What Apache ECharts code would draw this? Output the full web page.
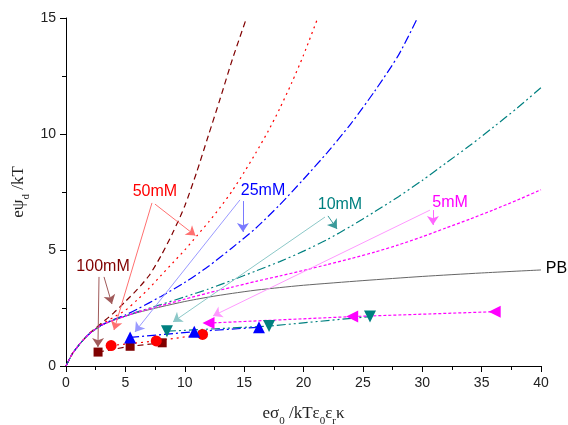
<!DOCTYPE html>
<html>
<head>
<meta charset="utf-8">
<script src="https://cdn.jsdelivr.net/npm/echarts@6/dist/echarts.min.js"></script>
<style>
  html, body { margin: 0; padding: 0; background: #fff; }
  #chart { width: 568px; height: 425px; }
</style>
</head>
<body>
<div id="chart"></div>
<script>
// theory curves [x, y]
var pb = [[0,0],[0.5,0.5],[1,0.85],[1.5,1.15],[2,1.4],[3,1.75],[4,1.97],[5,2.15],[6,2.3],[8,2.55],[10,2.78],[12,2.97],[14,3.13],[16,3.27],[18,3.38],[20,3.48],[25,3.68],[30,3.86],[35,4.01],[40,4.14]];
var theory100 = [[0,0],[0.5,0.5],[1,0.85],[1.5,1.15],[2,1.42],[3,1.85],[4,2.28],[5,2.78],[6,3.3],[7,3.9],[8,4.75],[9,5.75],[10,6.9],[11,8.35],[12,9.95],[13,11.55],[14,13.2],[15.2,15]];
var theory50 = [[0,0],[0.5,0.5],[1,0.85],[1.5,1.15],[2,1.41],[3,1.8],[4,2.1],[5,2.4],[6,2.85],[7,3.35],[8,3.9],[9,4.45],[10,5.0],[11,5.6],[12,6.2],[13,6.85],[14,7.55],[15,8.35],[16,9.2],[17,10.1],[18,11.1],[19,12.2],[20,13.4],[21.2,15]];
var theory25 = [[0,0],[0.5,0.5],[1,0.85],[1.5,1.15],[2,1.4],[3,1.77],[4,2.0],[5,2.2],[6,2.45],[8,3.0],[10,3.6],[12,4.3],[14,5.1],[16,5.95],[18,6.95],[20,8.05],[22,9.2],[24,10.45],[26,11.85],[28,13.4],[29.6,15]];
var theory10 = [[0,0],[0.5,0.5],[1,0.85],[1.5,1.15],[2,1.4],[3,1.76],[4,1.98],[5,2.15],[6,2.33],[8,2.65],[10,2.98],[12,3.32],[14,3.7],[16,4.1],[18,4.5],[20,4.95],[22,5.45],[24,6.03],[26,6.65],[28,7.3],[30,8.0],[32,8.75],[34,9.5],[36,10.3],[38,11.12],[40,12.0]];
var theory5 = [[0,0],[0.5,0.5],[1,0.85],[1.5,1.15],[2,1.4],[3,1.76],[4,1.97],[5,2.15],[6,2.32],[8,2.6],[10,2.88],[12,3.15],[14,3.4],[16,3.65],[18,3.88],[20,4.12],[22,4.37],[24,4.63],[26,4.91],[28,5.22],[30,5.57],[32,5.95],[34,6.33],[36,6.73],[38,7.15],[40,7.6]];

// measured points
var meas100 = [[2.7,0.6],[5.4,0.85],[8.1,1.0]];
var meas50 = [[3.8,0.88],[7.6,1.08],[11.5,1.36]];
var meas25 = [[5.4,1.23],[10.8,1.48],[16.25,1.67]];
var meas10 = [[8.5,1.5],[17.1,1.72],[25.6,2.13]];
var meas5 = [[12.0,1.85],[24.1,2.13],[36.1,2.34]];

// annotation labels and pointer arrows (data coordinates)
var labels = [
  {text: '100mM', at: [3.12, 4.3], color: '#800000'},
  {text: '50mM', at: [7.49, 7.5], color: '#ff0000'},
  {text: '25mM', at: [16.59, 7.55], color: '#0000ff'},
  {text: '10mM', at: [23.07, 6.95], color: '#008080'},
  {text: '5mM', at: [32.34, 7.03], color: '#ff00ff'},
  {text: 'PB', at: [41.3, 4.2], color: '#000000'}
];
var arrows = [
  {from: [2.78, 3.84], to: [2.69, 0.82], color: '#a05a5a'},
  {from: [3.2, 3.84], to: [3.87, 2.67], color: '#a05a5a'},
  {from: [7.24, 7.03], to: [4.04, 1.55], color: '#ff7070'},
  {from: [7.49, 6.98], to: [10.9, 5.62], color: '#ff7070'},
  {from: [14.9, 7.11], to: [14.9, 5.78], color: '#7a7aff'},
  {from: [14.65, 7.16], to: [5.81, 1.47], color: '#9a9aff'},
  {from: [22.06, 6.47], to: [22.82, 5.91], color: '#3a9a9a'},
  {from: [21.81, 6.42], to: [9.01, 1.9], color: '#8cc8c8'},
  {from: [30.9, 6.72], to: [30.9, 6.08], color: '#ff66ff'},
  {from: [30.65, 6.72], to: [12.38, 2.16], color: '#ff99ff'}
];

var chart = echarts.init(document.getElementById('chart'));

function curve(data, color, dash, width) {
  return {
    type: 'line', data: data, showSymbol: false, smooth: 0.25,
    lineStyle: {color: color, type: dash, width: width || 1.2}, z: 2, silent: true
  };
}
function points(data, color, dash, symbol, size, rot) {
  return {
    type: 'line', data: data, symbol: symbol, symbolSize: size, symbolRotate: rot || 0,
    showSymbol: true, itemStyle: {color: color, opacity: 1},
    lineStyle: {color: color, type: dash, width: 1.2}, z: 4, silent: true
  };
}

var dash100 = [6, 4], dot50 = [2, 4], dd25 = [9, 3, 2, 3], ddd10 = [9, 3, 2, 3, 2, 3], sd5 = [3, 2];

var arrowSeries = {
  type: 'line', data: [], silent: true, z: 3,
  markLine: {
    silent: true, symbol: ['none', 'arrow'], symbolSize: 9, label: {show: false},
    animation: false,
    data: arrows.map(function (a) {
      return [{coord: a.from, symbol: 'none', lineStyle: {color: a.color, type: 'solid', width: 1}, itemStyle: {color: a.color}},
              {coord: a.to, symbol: 'arrow', symbolSize: 9, itemStyle: {color: a.color}}];
    })
  }
};

var titleRich = {
  a: {fontFamily: 'Liberation Serif', fontSize: 17, color: '#222', lineHeight: 26},
  s: {fontFamily: 'Liberation Serif', fontSize: 11, color: '#222', lineHeight: 12, verticalAlign: 'bottom'}
};

chart.setOption({
  animation: false,
  grid: {left: 66, right: 27, top: 18, bottom: 59, containLabel: false, outerBoundsMode: 'none'},
  xAxis: {
    type: 'value', min: 0, max: 40, interval: 5,
    name: '{a|eσ}{s|0}{a| /kTε}{s|0}{a|ε}{s|r}{a|κ}',
    nameLocation: 'middle', nameGap: 35, nameMoveOverlap: false,
    nameTextStyle: {rich: titleRich},
    axisLine: {lineStyle: {color: '#000', width: 1}},
    axisTick: {inside: false, length: 6, lineStyle: {color: '#000'}},
    minorTick: {show: true, splitNumber: 2, length: 4, lineStyle: {color: '#000'}},
    axisLabel: {fontFamily: 'Liberation Sans', fontSize: 14, color: '#222', margin: 10},
    splitLine: {show: false}
  },
  yAxis: {
    type: 'value', min: 0, max: 15, interval: 5,
    name: '{a|eψ}{s|d}{a| /kT}',
    nameLocation: 'middle', nameGap: 34, nameMoveOverlap: false,
    nameTextStyle: {rich: titleRich},
    axisLine: {show: true, lineStyle: {color: '#000', width: 1}},
    axisTick: {show: true, inside: false, length: 6, lineStyle: {color: '#000'}},
    minorTick: {show: true, splitNumber: 2, length: 4, lineStyle: {color: '#000'}},
    axisLabel: {fontFamily: 'Liberation Sans', fontSize: 14, color: '#222', margin: 10},
    splitLine: {show: false}
  },
  series: [
    curve(pb, '#666666', 'solid', 1),
    curve(theory100, '#800000', dash100),
    curve(theory50, '#ff0000', dot50),
    curve(theory25, '#0000ff', dd25),
    curve(theory10, '#008080', ddd10),
    curve(theory5, '#ff00ff', sd5),
    arrowSeries,
    points(meas100, '#800000', dash100, 'rect', 9),
    points(meas50, '#ff0000', dot50, 'circle', 11),
    points(meas25, '#0000ff', dd25, 'triangle', 12),
    points(meas10, '#008080', ddd10, 'triangle', 12, 180),
    points(meas5, '#ff00ff', sd5, 'triangle', 12, 90)
  ]
});

chart.setOption({
  graphic: labels.map(function (l) {
    var p = chart.convertToPixel({gridIndex: 0}, l.at);
    return {
      type: 'text', x: p[0], y: p[1], z: 10, silent: true,
      style: {text: l.text, fill: l.color, font: '16px "Liberation Sans", Arial, sans-serif', align: 'center', verticalAlign: 'middle'}
    };
  })
});
</script>
</body>
</html>
